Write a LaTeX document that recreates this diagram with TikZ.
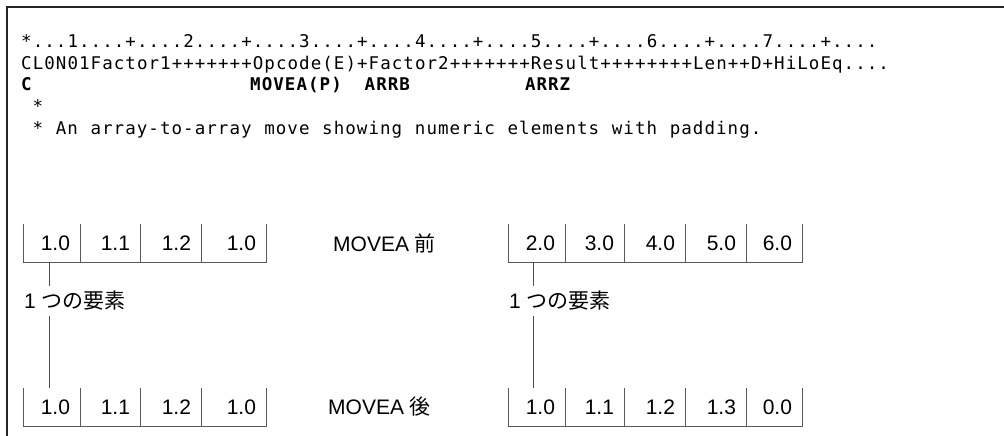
\documentclass[tikz,border=0pt]{standalone}
\usepackage{fontspec}
\setmainfont{Liberation Sans}
\newfontfamily\codefont[LetterSpace=6.0,WordSpace=1.09]{DejaVu Sans Mono}
\newfontfamily\jpfont{Noto Sans CJK JP}
\tikzset{
  frameline/.style={line width=1.5pt, black!85},
  boxline/.style={line width=1pt, black!65},
  conn/.style={line width=0.9pt, black!70},
  cellbox/.style={inner sep=0pt, minimum height=38pt},
  num/.style={anchor=east, inner sep=0pt, font=\fontsize{21}{21}\selectfont},
  codeline/.style={anchor=base west, inner sep=0pt, font=\fontsize{17.5}{17.5}\codefont},
  codebold/.style={codeline, font=\fontsize{17.5}{17.5}\codefont\bfseries},
  lbl/.style={anchor=west, inner sep=0pt, minimum height=29pt, font=\fontsize{21}{21}\selectfont},
}
\newcommand{\jp}[1]{{\jpfont #1}}
\begin{document}
\begin{tikzpicture}[x=1pt, y={(0pt,-1pt)}]
\useasboundingbox (0,0) rectangle (1004,436);
% frame
\draw[frameline] (7,436) -- (7,7) -- (1004,7);
% code lines
\def\cx{21}\def\cw{11.45}
\node[codeline] (l1) at (\cx,48) {*...1....+....2....+....3....+....4....+....5....+....6....+....7....+....};
\node[codeline] (l2) at (\cx,69.5) {CL0N01Factor1+++++++Opcode(E)+Factor2+++++++Result++++++++Len++D+HiLoEq....};
\node[codebold] (l3a) at (\cx,91) {C};
\node[codebold] (l3b) at ({\cx+20*\cw},91) {MOVEA(P)};
\node[codebold] (l3c) at ({\cx+30*\cw},91) {ARRB};
\node[codebold] (l3d) at ({\cx+44*\cw},91) {ARRZ};
\node[codeline] (l4) at ({\cx+\cw},112.5) {*};
\node[codeline] (l5) at ({\cx+\cw},134) {* An array-to-array move showing numeric elements with padding.};
% left group
\foreach \n/\l/\r/\t in {1/24/80/1.0, 2/80/140/1.1, 3/140/201/1.2, 4/201/266/1.0} {
  \node[cellbox, minimum width={\r-\l}] (a\n) at ({(\l+\r)/2}, 243) {};
  \node[num] (a\n t) at ([xshift=-10pt]a\n.east) {\t};
  \node[cellbox, minimum width={\r-\l}] (b\n) at ({(\l+\r)/2}, 407) {};
  \node[num] (b\n t) at ([xshift=-10pt]b\n.east) {\t};
}
% right group
\foreach \n/\l/\r/\t/\u in {1/509/565/2.0/1.0, 2/565/624/3.0/1.1, 3/624/685/4.0/1.2, 4/685/746/5.0/1.3, 5/746/802/6.0/0.0} {
  \node[cellbox, minimum width={\r-\l}] (c\n) at ({(\l+\r)/2}, 243) {};
  \node[num] (c\n t) at ([xshift=-10pt]c\n.east) {\t};
  \node[cellbox, minimum width={\r-\l}] (d\n) at ({(\l+\r)/2}, 407) {};
  \node[num] (d\n t) at ([xshift=-10pt]d\n.east) {\u};
}
% box outlines
\foreach \g/\k in {a/4, b/4, c/5, d/5} {
  \draw[boxline] (\g1.north west) -- (\g1.south west) -- (\g\k.south east) -- (\g\k.north east);
}
\foreach \g/\k in {a/3, b/3, c/4, d/4} {
  \foreach \i in {1,...,\k} {
    \draw[boxline] (\g\i.north east) -- (\g\i.south east);
  }
}
% labels
\node[lbl] (mv1) at (333,243) {MOVEA \jp{前}};
\node[lbl] (mv2) at (328,407) {MOVEA \jp{後}};
\node[lbl] (e1) at (24,301) {1 \jp{つの要素}};
\node[lbl] (e2) at (509,301) {1 \jp{つの要素}};
% connectors
\coordinate (p1) at ([xshift=-2.5pt]a1.south);
\coordinate (p2) at ([xshift=-4pt]c1.south);
\draw[conn] (p1) -- (p1 |- e1.north);
\draw[conn] (p1 |- e1.south) -- (p1 |- b1.north);
\draw[conn] (p2) -- (p2 |- e2.north);
\draw[conn] (p2 |- e2.south) -- (p2 |- d1.north);
\end{tikzpicture}
\end{document}
